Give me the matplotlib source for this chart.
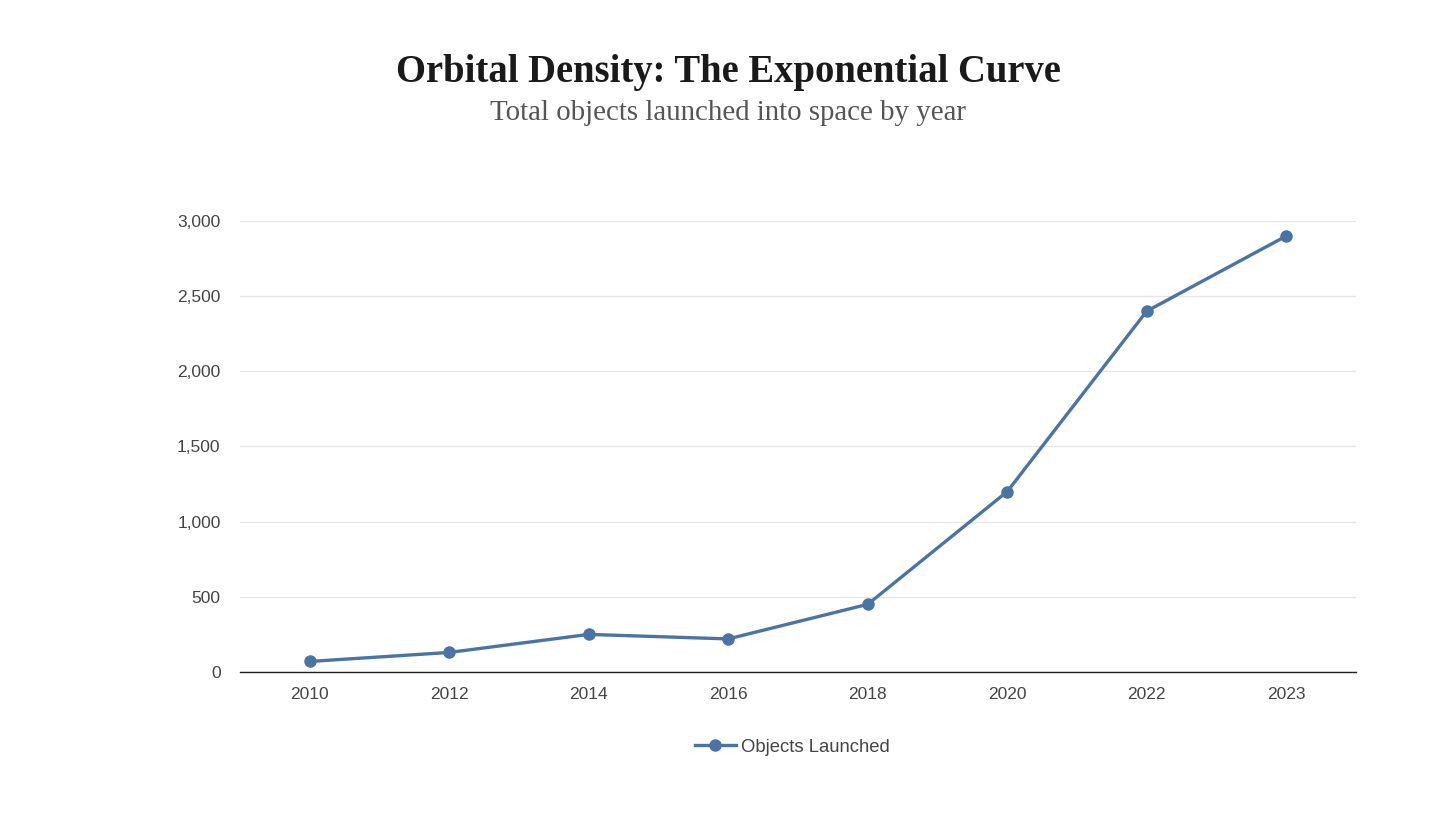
import numpy as np
import matplotlib.pyplot as plt
from matplotlib.ticker import FuncFormatter

years = ['2010', '2012', '2014', '2016', '2018', '2020', '2022', '2023']
objects_launched = [70, 130, 250, 220, 450, 1200, 2400, 2900]

line_color = '#4a74a5'

fig = plt.figure(figsize=(14.56, 8.19), dpi=100)
ax = fig.add_axes([0.1648, 0.1795, 0.7665, 0.5507])

x = np.arange(len(years))
ax.plot(x, objects_launched, color=line_color, lw=2.4, marker='o', ms=8,
        label='Objects Launched')

ax.set_xlim(-0.5, len(years) - 0.5)
ax.set_ylim(0, 3000)
ax.set_yticks(np.arange(0, 3001, 500))
ax.yaxis.set_major_formatter(FuncFormatter(lambda v, p: f'{int(v):,}'))
ax.set_xticks(x)
ax.set_xticklabels(years)

ax.grid(axis='y', color='#e6e6e6', lw=1)
ax.set_axisbelow(True)
for s in ['top', 'right', 'left']:
    ax.spines[s].set_visible(False)
ax.spines['bottom'].set_color('#222222')
ax.spines['bottom'].set_linewidth(1)
ax.tick_params(length=0, labelsize=12.5, labelcolor='#444444')
ax.tick_params(axis='y', pad=14)
ax.tick_params(axis='x', pad=11)
for lab in ax.get_xticklabels() + ax.get_yticklabels():
    lab.set_fontfamily('Liberation Sans')

fig.text(0.5, 0.911, 'Orbital Density: The Exponential Curve', ha='center',
         va='center', fontsize=27.8, fontweight='bold', family='Liberation Serif',
         color='#1a1a1a')
fig.text(0.5, 0.862, 'Total objects launched into space by year', ha='center',
         va='center', fontsize=20.8, family='Liberation Serif', color='#555555')

leg = ax.legend(loc='center', bbox_to_anchor=(0.495, -0.167), frameon=False,
                prop={'family': 'Liberation Sans', 'size': 13.3}, handlelength=2.2,
                handletextpad=0.3)
for t in leg.get_texts():
    t.set_color('#444444')

fig.savefig('out.png', dpi=100, facecolor='white')
